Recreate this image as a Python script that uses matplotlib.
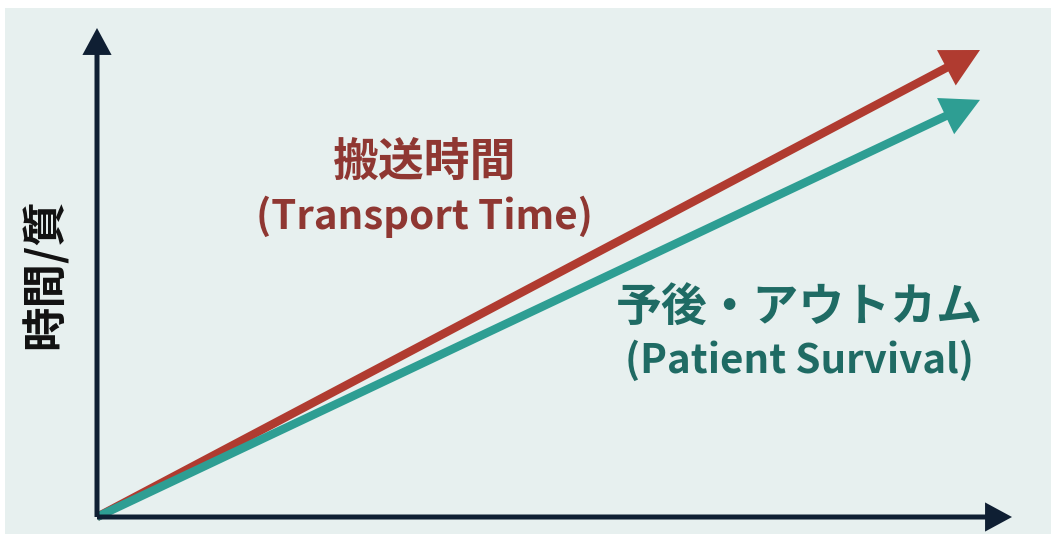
import matplotlib
matplotlib.use("Agg")
import matplotlib.pyplot as plt
from matplotlib.patches import FancyArrowPatch, Rectangle

plt.rcParams["font.family"] = ["Noto Sans CJK JP", "DejaVu Sans"]

# Conceptual chart: two trends rising from the origin
series_names = ["搬送時間\n(Transport Time)", "予後・アウトカム\n(Patient Survival)"]
series_end_x = [0.965, 0.965]
series_end_y = [0.955, 0.853]
series_colors = ["#b03b30", "#2e9e93"]
label_colors = ["#8f3732", "#1f6b64"]
label_x = [0.358, 0.768]
label_y = [0.669, 0.373]
y_axis_label = "時間/質"

BG = "#e7f0ef"
AXIS = "#0f1f33"

fig = plt.figure(figsize=(10.51, 5.34), dpi=100)
fig.patch.set_facecolor("white")
fig.patches.append(Rectangle((5 / 1051, 0), 1 - 5 / 1051, 1 - 8 / 534,
                             transform=fig.transFigure, facecolor=BG,
                             edgecolor="none", zorder=-10))

ax = fig.add_axes([97 / 1051, 17 / 534, 915 / 1051, 489 / 534])
ax.set_zorder(1)
ax.set_xlim(0, 1)
ax.set_ylim(0, 1)
ax.axis("off")
ax.patch.set_alpha(0)

# Trend arrows (teal drawn last so it sits on top near the origin)
for ex, ey, c in zip(series_end_x, series_end_y, series_colors):
    arr = FancyArrowPatch((0, 0), (ex, ey),
                          arrowstyle="simple,head_length=0.95,head_width=1.0,tail_width=0.21",
                          mutation_scale=28.8, color=c, lw=0, shrinkA=0, shrinkB=0,
                          clip_on=False, zorder=3)
    ax.add_patch(arr)

# Axes drawn as arrows
for end in [(1.0, 0.0), (0.0, 1.0)]:
    arr = FancyArrowPatch((0, 0), end,
                          arrowstyle="simple,head_length=0.97,head_width=1.05,tail_width=0.18",
                          mutation_scale=20, color=AXIS, lw=0, shrinkA=0, shrinkB=0,
                          clip_on=False, zorder=5)
    ax.add_patch(arr)

# Series labels
for name, x, y, c in zip(series_names, label_x, label_y, label_colors):
    title, sub = name.split("\n")
    ax.text(x, y + 0.053, title, color=c, fontsize=33, fontweight="bold",
            ha="center", va="center", zorder=6)
    ax.text(x, y - 0.055, sub, color=c, fontsize=29, fontweight="bold",
            ha="center", va="center", zorder=6)

ax.text(-0.056, 0.497, y_axis_label, rotation=90, fontsize=32, fontweight="bold",
        color="#111111", ha="center", va="center", zorder=6)

fig.savefig("out.png", dpi=100, facecolor=fig.get_facecolor())
